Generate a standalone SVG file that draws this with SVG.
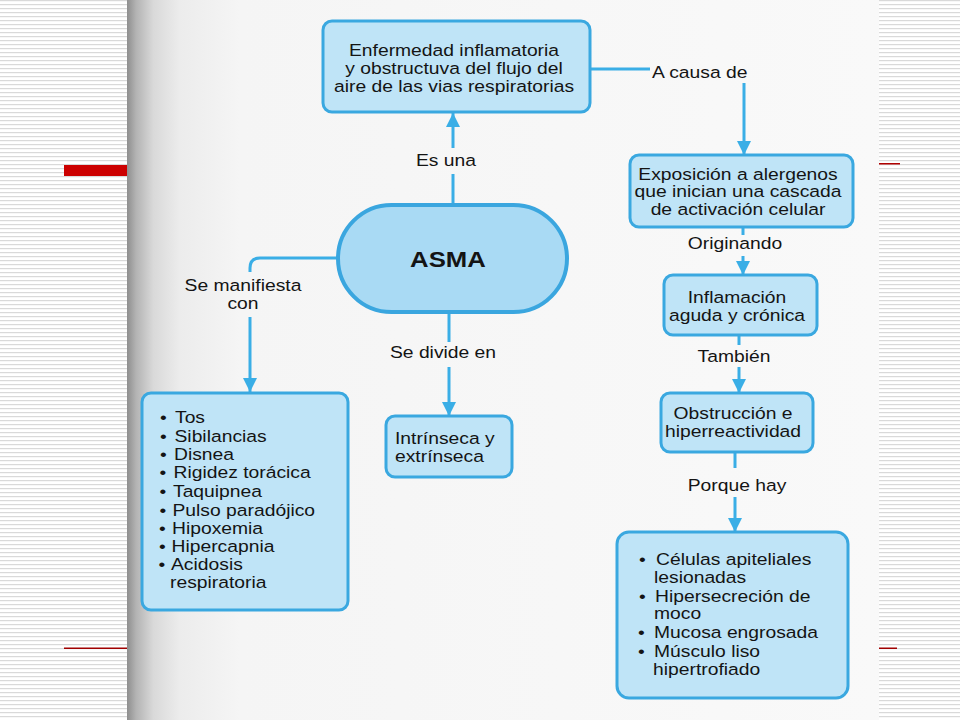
<svg xmlns="http://www.w3.org/2000/svg" width="960" height="720" viewBox="0 0 960 720">
<defs>
<pattern id="stripes" width="4" height="4" patternUnits="userSpaceOnUse">
<rect width="4" height="4" fill="#ffffff"/>
<rect y="0" width="4" height="1.2" fill="#d9d9d9"/>
</pattern>
<linearGradient id="page" x1="0" y1="0" x2="1" y2="0">
<stop offset="0" stop-color="#8e8e8e"/>
<stop offset="0.012" stop-color="#b3b3b3"/>
<stop offset="0.035" stop-color="#d9d9d9"/>
<stop offset="0.07" stop-color="#ececec"/>
<stop offset="0.15" stop-color="#f5f5f5"/>
<stop offset="1" stop-color="#f9f9f9"/>
</linearGradient>
<marker id="arr" markerUnits="userSpaceOnUse" markerWidth="14" markerHeight="14" refX="14" refY="7" orient="auto">
<path d="M0,0 L14,7 L0,14 z" fill="#3aaee6"/>
</marker>
<style>
.box{fill:#bfe4f7;stroke:#3aa8e0;stroke-width:3}
.pill{fill:#a9daf4;stroke:#3aa6df;stroke-width:4}
.ln{fill:none;stroke:#3aaee6;stroke-width:3}
.t{font-family:"Liberation Sans",Arial,Helvetica,sans-serif;font-size:16.5px;fill:#141414}
.c{text-anchor:middle}
.b{font-weight:bold;font-size:22px}
</style>
</defs>
<rect width="960" height="720" fill="url(#stripes)"/>
<rect x="127" y="0" width="752" height="720" fill="url(#page)"/>
<rect x="64" y="165" width="63" height="11" fill="#cc0000"/>
<rect x="879" y="163" width="21" height="1.5" fill="#b00000"/>
<rect x="64" y="647.5" width="63" height="1.5" fill="#a00000"/>
<rect x="879" y="647.5" width="18" height="1.5" fill="#a00000"/>

<g id="connectors">
<path class="ln" d="M453,206 V174"/>
<path class="ln" d="M453,148 V113" marker-end="url(#arr)"/>
<path class="ln" d="M590,69 H650"/>
<path class="ln" d="M744,83 V155" marker-end="url(#arr)"/>
<path class="ln" d="M340,258 H260 Q250,258 250,268 V272"/>
<path class="ln" d="M250,317 V392" marker-end="url(#arr)"/>
<path class="ln" d="M449,313 V342"/>
<path class="ln" d="M449,367 V416" marker-end="url(#arr)"/>
<path class="ln" d="M743,227 V235"/>
<path class="ln" d="M743,256 V275" marker-end="url(#arr)"/>
<path class="ln" d="M739,335 V345"/>
<path class="ln" d="M739,367 V393" marker-end="url(#arr)"/>
<path class="ln" d="M735,452 V468"/>
<path class="ln" d="M735,497 V532" marker-end="url(#arr)"/>
<text class="t c" transform="translate(446,166) scale(1.17,1)">Es una</text>
<text class="t" transform="translate(652,78) scale(1.17,1)">A causa de</text>
<text class="t c" transform="translate(243,291) scale(1.17,1)"><tspan x="0">Se manifiesta</tspan><tspan x="0" dy="18">con</tspan></text>
<text class="t c" transform="translate(443,358) scale(1.17,1)">Se divide en</text>
<text class="t c" transform="translate(735,249) scale(1.17,1)">Originando</text>
<text class="t c" transform="translate(734,362) scale(1.17,1)">También</text>
<text class="t c" transform="translate(737,491) scale(1.17,1)">Porque hay</text>
</g>

<g id="enfermedad">
<rect class="box" x="323" y="21" width="267" height="91" rx="9"/>
<text class="t c" transform="translate(454,56) scale(1.17,1)"><tspan x="0">Enfermedad inflamatoria</tspan><tspan x="0" dy="18.2">y obstructuva del flujo del</tspan><tspan x="0" dy="18.2">aire de las vias respiratorias</tspan></text>
</g>

<g id="asma">
<rect class="pill" x="338" y="205" width="229" height="107" rx="53.5"/>
<text class="t c b" transform="translate(448,267) scale(1.17,1)">ASMA</text>
</g>

<g id="exposicion">
<rect class="box" x="630" y="155" width="223" height="72" rx="9"/>
<text class="t c" transform="translate(738,180) scale(1.17,1)"><tspan x="0">Exposición a alergenos</tspan><tspan x="0" dy="17.5">que inician una cascada</tspan><tspan x="0" dy="17.5">de activación celular</tspan></text>
</g>

<g id="inflamacion">
<rect class="box" x="664" y="275" width="153" height="60" rx="9"/>
<text class="t c" transform="translate(737,303) scale(1.17,1)"><tspan x="0">Inflamación</tspan><tspan x="0" dy="18">aguda y crónica</tspan></text>
</g>

<g id="obstruccion">
<rect class="box" x="661" y="393" width="152" height="59" rx="9"/>
<text class="t c" transform="translate(733,419) scale(1.17,1)"><tspan x="0">Obstrucción e</tspan><tspan x="0" dy="18">hiperreactividad</tspan></text>
</g>

<g id="manifestaciones">
<rect class="box" x="142" y="393" width="206" height="217" rx="9"/>
<text class="t" transform="translate(160,423) scale(1.17,1)">•</text>
<text class="t" transform="translate(175,423) scale(1.17,1)">Tos</text>
<text class="t" transform="translate(160,441.5) scale(1.17,1)">•</text>
<text class="t" transform="translate(174.5,441.5) scale(1.17,1)">Sibilancias</text>
<text class="t" transform="translate(160,459.5) scale(1.17,1)">•</text>
<text class="t" transform="translate(174,459.5) scale(1.17,1)">Disnea</text>
<text class="t" transform="translate(159.5,478) scale(1.17,1)">•</text>
<text class="t" transform="translate(173.5,478) scale(1.17,1)">Rigidez torácica</text>
<text class="t" transform="translate(159.5,497) scale(1.17,1)">•</text>
<text class="t" transform="translate(173,497) scale(1.17,1)">Taquipnea</text>
<text class="t" transform="translate(159.5,515.5) scale(1.17,1)">•</text>
<text class="t" transform="translate(172.5,515.5) scale(1.17,1)">Pulso paradójico</text>
<text class="t" transform="translate(159,533.5) scale(1.17,1)">•</text>
<text class="t" transform="translate(172,533.5) scale(1.17,1)">Hipoxemia</text>
<text class="t" transform="translate(159,552) scale(1.17,1)">•</text>
<text class="t" transform="translate(171.5,552) scale(1.17,1)">Hipercapnia</text>
<text class="t" transform="translate(158.5,570) scale(1.17,1)">•</text>
<text class="t" transform="translate(171,570) scale(1.17,1)">Acidosis</text>
<text class="t" transform="translate(170,588) scale(1.17,1)">respiratoria</text>
</g>

<g id="tipos">
<rect class="box" x="386" y="416" width="126" height="61" rx="9"/>
<text class="t" transform="translate(395,444) scale(1.17,1)"><tspan x="0">Intrínseca y</tspan><tspan x="0" dy="18">extrínseca</tspan></text>
</g>

<g id="causas">
<rect class="box" x="617" y="532" width="231" height="166" rx="12"/>
<text class="t" transform="translate(639,565) scale(1.17,1)">•</text>
<text class="t" transform="translate(656,565) scale(1.17,1)">Células apiteliales</text>
<text class="t" transform="translate(654,583) scale(1.17,1)">lesionadas</text>
<text class="t" transform="translate(639,601.5) scale(1.17,1)">•</text>
<text class="t" transform="translate(655,601.5) scale(1.17,1)">Hipersecreción de</text>
<text class="t" transform="translate(654,619) scale(1.17,1)">moco</text>
<text class="t" transform="translate(638,638) scale(1.17,1)">•</text>
<text class="t" transform="translate(654,638) scale(1.17,1)">Mucosa engrosada</text>
<text class="t" transform="translate(638,656.5) scale(1.17,1)">•</text>
<text class="t" transform="translate(654,656.5) scale(1.17,1)">Músculo liso</text>
<text class="t" transform="translate(653,675) scale(1.17,1)">hipertrofiado</text>
</g>
</svg>
